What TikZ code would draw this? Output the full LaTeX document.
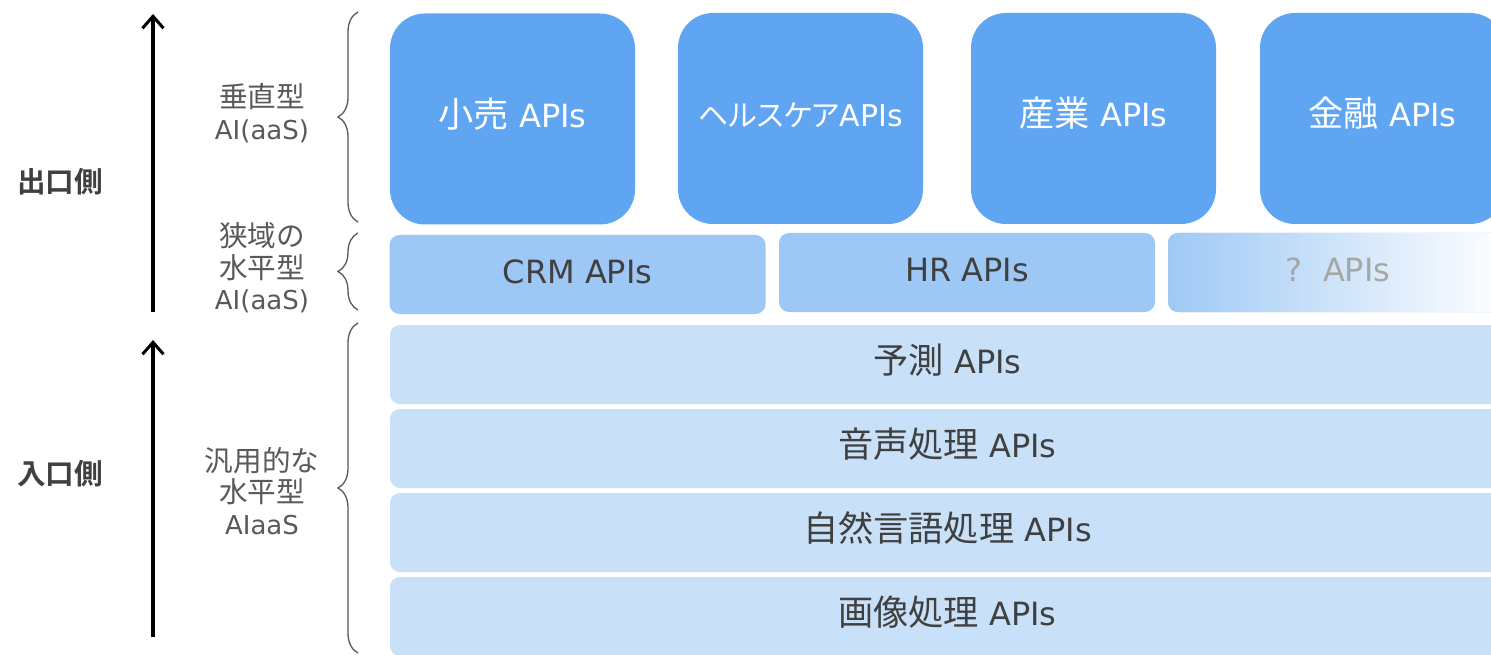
\documentclass[tikz,border=0pt]{standalone}
\usepackage{fontspec}
\setmainfont{DejaVu Sans}
\newfontfamily\cjk[Scale=1.1,BoldFont={Noto Sans CJK JP Bold}]{Noto Sans CJK JP}
\newfontfamily\cjkp[Scale=1.0,RawFeature=+palt]{Noto Sans CJK JP}
\usetikzlibrary{arrows.meta,decorations.pathreplacing}
\definecolor{topblue}{HTML}{5FA5F2}
\definecolor{midblue}{HTML}{9DC7F5}
\definecolor{lowblue}{HTML}{C8E0F8}
\definecolor{darktext}{HTML}{404040}
\definecolor{sidetext}{HTML}{595959}
\definecolor{qtext}{HTML}{A6A6A6}
\definecolor{gradstart}{HTML}{9FC9F5}
\tikzset{
  boxtext/.style={inner sep=0pt, text height=25pt, text depth=8pt, font=\fontsize{32}{38}\selectfont},
  topbox/.style={boxtext, rounded corners=35pt, fill=topblue, draw=none, minimum width=245pt, minimum height=211pt, text=white},
  midbox/.style={boxtext, rounded corners=10pt, fill=midblue, draw=none, minimum width=376pt, minimum height=79pt, text=darktext},
  lowbox/.style={boxtext, rounded corners=10pt, fill=lowblue, draw=none, minimum width=1115pt, minimum height=79pt, text=darktext},
  sidelabel/.style={align=center, text=sidetext, font=\fontsize{26}{31.5}\selectfont, inner sep=0pt},
  sidehead/.style={text=darktext, font=\fontsize{26}{31}\selectfont\bfseries, inner sep=0pt},
  uparrow/.style={line width=3.4pt, black, -{Straight Barb[length=12pt,width=21pt,line width=3pt]}},
  bracestyle/.style={draw=sidetext, line width=1.3pt, decorate, decoration={brace, amplitude=20pt}}
}
\begin{document}
\begin{tikzpicture}[x=1pt,y=-1pt]
\useasboundingbox (0,0) rectangle (1491,655);
\clip (0,0) rectangle (1491,655);
\fill[white] (0,0) rectangle (1491,655);

% top row
\node[topbox] (retail) at (512.5,119) {{\cjk 小売} APIs};
\node[topbox, font=\fontsize{30}{36}\selectfont] (health) at (800.5,118.5) {{\cjkp ヘルスケア}APIs};
\node[topbox] (industry) at (1093.5,118.5) {{\cjk 産業} APIs};
\node[topbox] (finance) at (1382.5,118.5) {{\cjk 金融} APIs};

% middle row
\node[midbox] (crm) at (577.5,274.5) {CRM APIs};
\node[midbox] (hr) at (967,272.5) {HR APIs};
\node[midbox, minimum width=340pt, left color=gradstart, right color=white, text=qtext] (unknown) at (1338,272.5) {?\ \ APIs};

% lower rows
\node[lowbox] (predict) at (947.5,364.5) {{\cjk 予測} APIs};
\node[lowbox] (voice) at (947.5,448.5) {{\cjk 音声処理} APIs};
\node[lowbox] (nlp) at (947.5,532.5) {{\cjk 自然言語処理} APIs};
\node[lowbox] (image) at (947.5,616.5) {{\cjk 画像処理} APIs};

% arrows
\coordinate (a1s) at (153,312);
\coordinate (a1e) at (153,14);
\coordinate (a2s) at (153,637);
\coordinate (a2e) at (153,340);
\draw[uparrow] (a1s) -- (a1e);
\draw[uparrow] (a2s) -- (a2e);

% heads
\node[sidehead] (exit) at (60,182) {{\cjk\bfseries 出口側}};
\node[sidehead] (entry) at (60,474) {{\cjk\bfseries 入口側}};

% side labels
\node[sidelabel] (vert) at (262,113) {{\cjk 垂直型}\\AI(aaS)};
\node[sidelabel] (narrow) at (262,268) {{\cjk 狭域の}\\{\cjk 水平型}\\AI(aaS)};
\node[sidelabel] (general) at (262,491) {{\cjk 汎用的な}\\{\cjk 水平型}\\AIaaS};

% braces
\coordinate (b1t) at (358,12);
\coordinate (b1b) at (358,222);
\coordinate (b2t) at (358,233);
\coordinate (b2b) at (358,310);
\coordinate (b3t) at (358,323);
\coordinate (b3b) at (358,653);
\draw[bracestyle] (b1b) -- (b1t);
\draw[bracestyle] (b2b) -- (b2t);
\draw[bracestyle] (b3b) -- (b3t);
\end{tikzpicture}
\end{document}
